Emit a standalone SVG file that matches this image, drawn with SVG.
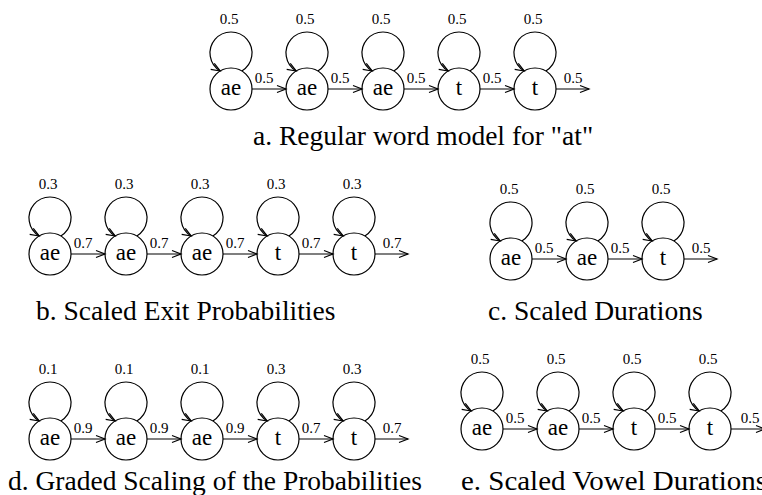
<svg xmlns="http://www.w3.org/2000/svg" width="762" height="495" viewBox="0 0 762 495">
<style>
.n{fill:none;stroke:#000;stroke-width:1.2}
.c{fill:none;stroke:#000;stroke-width:1.2;marker-end:url(#ah)}
text{font-family:"Liberation Serif","Times New Roman",serif;fill:#000}
.t{font-size:23px;text-anchor:middle}
.l{font-size:15px;text-anchor:middle}
.cap{font-size:27.5px}
</style>
<defs>
<marker id="ah" markerUnits="userSpaceOnUse" markerWidth="14" markerHeight="12" refX="0" refY="0" viewBox="-11 -6 14 12" orient="auto" overflow="visible">
<path d="M-9,-3.5 L0,0 L-9,3.5" fill="none" stroke="#000" stroke-width="1.2"/>
</marker>
</defs>
<rect width="762" height="495" fill="#fff"/>
<g id="connectors">
<path class="c" d="M241.8,71 A21,21 0 1 0 220.2,71"/>
<path class="c" d="M317.8,71 A21,21 0 1 0 296.2,71"/>
<path class="c" d="M393.8,71 A21,21 0 1 0 372.2,71"/>
<path class="c" d="M469.8,71 A21,21 0 1 0 448.2,71"/>
<path class="c" d="M545.8,71 A21,21 0 1 0 524.2,71"/>
<path class="c" d="M252,89 H286"/>
<path class="c" d="M328,89 H362"/>
<path class="c" d="M404,89 H438"/>
<path class="c" d="M480,89 H514"/>
<path class="c" d="M556,89 H589"/>
<path class="c" d="M60.8,236 A21,21 0 1 0 39.2,236"/>
<path class="c" d="M136.8,236 A21,21 0 1 0 115.2,236"/>
<path class="c" d="M212.8,236 A21,21 0 1 0 191.2,236"/>
<path class="c" d="M288.8,236 A21,21 0 1 0 267.2,236"/>
<path class="c" d="M364.8,236 A21,21 0 1 0 343.2,236"/>
<path class="c" d="M71,254 H105"/>
<path class="c" d="M147,254 H181"/>
<path class="c" d="M223,254 H257"/>
<path class="c" d="M299,254 H333"/>
<path class="c" d="M375,254 H408"/>
<path class="c" d="M521.8,241 A21,21 0 1 0 500.2,241"/>
<path class="c" d="M597.8,241 A21,21 0 1 0 576.2,241"/>
<path class="c" d="M673.8,241 A21,21 0 1 0 652.2,241"/>
<path class="c" d="M532,259 H566"/>
<path class="c" d="M608,259 H642"/>
<path class="c" d="M684,259 H717"/>
<path class="c" d="M60.8,421 A21,21 0 1 0 39.2,421"/>
<path class="c" d="M136.8,421 A21,21 0 1 0 115.2,421"/>
<path class="c" d="M212.8,421 A21,21 0 1 0 191.2,421"/>
<path class="c" d="M288.8,421 A21,21 0 1 0 267.2,421"/>
<path class="c" d="M364.8,421 A21,21 0 1 0 343.2,421"/>
<path class="c" d="M71,439 H105"/>
<path class="c" d="M147,439 H181"/>
<path class="c" d="M223,439 H257"/>
<path class="c" d="M299,439 H333"/>
<path class="c" d="M375,439 H408"/>
<path class="c" d="M492.8,411 A21,21 0 1 0 471.2,411"/>
<path class="c" d="M568.8,411 A21,21 0 1 0 547.2,411"/>
<path class="c" d="M644.8,411 A21,21 0 1 0 623.2,411"/>
<path class="c" d="M720.8,411 A21,21 0 1 0 699.2,411"/>
<path class="c" d="M503,429 H537"/>
<path class="c" d="M579,429 H613"/>
<path class="c" d="M655,429 H689"/>
<path class="c" d="M731,429 H765"/>
</g>
<g id="labels">
<g class="l">
<text x="229" y="24">0.5</text><text x="305" y="24">0.5</text><text x="381" y="24">0.5</text><text x="457" y="24">0.5</text><text x="533" y="24">0.5</text>
<text x="264" y="83">0.5</text><text x="340" y="83">0.5</text><text x="416" y="83">0.5</text><text x="492" y="83">0.5</text><text x="573" y="83">0.5</text>
<text x="48" y="189">0.3</text><text x="124" y="189">0.3</text><text x="200" y="189">0.3</text><text x="276" y="189">0.3</text><text x="352" y="189">0.3</text>
<text x="83" y="248">0.7</text><text x="159" y="248">0.7</text><text x="235" y="248">0.7</text><text x="311" y="248">0.7</text><text x="392" y="248">0.7</text>
<text x="509" y="194">0.5</text><text x="585" y="194">0.5</text><text x="661" y="194">0.5</text>
<text x="544" y="253">0.5</text><text x="620" y="253">0.5</text><text x="701" y="253">0.5</text>
<text x="48" y="374">0.1</text><text x="124" y="374">0.1</text><text x="200" y="374">0.1</text><text x="276" y="374">0.3</text><text x="352" y="374">0.3</text>
<text x="83" y="433">0.9</text><text x="159" y="433">0.9</text><text x="235" y="433">0.9</text><text x="311" y="433">0.7</text><text x="392" y="433">0.7</text>
<text x="480" y="364">0.5</text><text x="556" y="364">0.5</text><text x="632" y="364">0.5</text><text x="708" y="364">0.5</text>
<text x="515" y="423">0.5</text><text x="591" y="423">0.5</text><text x="667" y="423">0.5</text><text x="750" y="423">0.5</text>
</g>
<g class="cap">
<text x="253" y="145">a. Regular word model for "at"</text>
<text x="36" y="320">b. Scaled Exit Probabilities</text>
<text x="488" y="320">c. Scaled Durations</text>
<text x="8" y="490">d. Graded Scaling of the Probabilities</text>
<text x="461" y="490" textLength="306" lengthAdjust="spacingAndGlyphs">e. Scaled Vowel Durations</text>
</g>
</g>
<g id="a1"><circle class="n" cx="231" cy="89" r="21"/><text class="t" x="231" y="95">ae</text></g>
<g id="a2"><circle class="n" cx="307" cy="89" r="21"/><text class="t" x="307" y="95">ae</text></g>
<g id="a3"><circle class="n" cx="383" cy="89" r="21"/><text class="t" x="383" y="95">ae</text></g>
<g id="a4"><circle class="n" cx="459" cy="89" r="21"/><text class="t" x="459" y="95">t</text></g>
<g id="a5"><circle class="n" cx="535" cy="89" r="21"/><text class="t" x="535" y="95">t</text></g>
<g id="b1"><circle class="n" cx="50" cy="254" r="21"/><text class="t" x="50" y="260">ae</text></g>
<g id="b2"><circle class="n" cx="126" cy="254" r="21"/><text class="t" x="126" y="260">ae</text></g>
<g id="b3"><circle class="n" cx="202" cy="254" r="21"/><text class="t" x="202" y="260">ae</text></g>
<g id="b4"><circle class="n" cx="278" cy="254" r="21"/><text class="t" x="278" y="260">t</text></g>
<g id="b5"><circle class="n" cx="354" cy="254" r="21"/><text class="t" x="354" y="260">t</text></g>
<g id="c1"><circle class="n" cx="511" cy="259" r="21"/><text class="t" x="511" y="265">ae</text></g>
<g id="c2"><circle class="n" cx="587" cy="259" r="21"/><text class="t" x="587" y="265">ae</text></g>
<g id="c3"><circle class="n" cx="663" cy="259" r="21"/><text class="t" x="663" y="265">t</text></g>
<g id="d1"><circle class="n" cx="50" cy="439" r="21"/><text class="t" x="50" y="445">ae</text></g>
<g id="d2"><circle class="n" cx="126" cy="439" r="21"/><text class="t" x="126" y="445">ae</text></g>
<g id="d3"><circle class="n" cx="202" cy="439" r="21"/><text class="t" x="202" y="445">ae</text></g>
<g id="d4"><circle class="n" cx="278" cy="439" r="21"/><text class="t" x="278" y="445">t</text></g>
<g id="d5"><circle class="n" cx="354" cy="439" r="21"/><text class="t" x="354" y="445">t</text></g>
<g id="e1"><circle class="n" cx="482" cy="429" r="21"/><text class="t" x="482" y="435">ae</text></g>
<g id="e2"><circle class="n" cx="558" cy="429" r="21"/><text class="t" x="558" y="435">ae</text></g>
<g id="e3"><circle class="n" cx="634" cy="429" r="21"/><text class="t" x="634" y="435">t</text></g>
<g id="e4"><circle class="n" cx="710" cy="429" r="21"/><text class="t" x="710" y="435">t</text></g>
</svg>
